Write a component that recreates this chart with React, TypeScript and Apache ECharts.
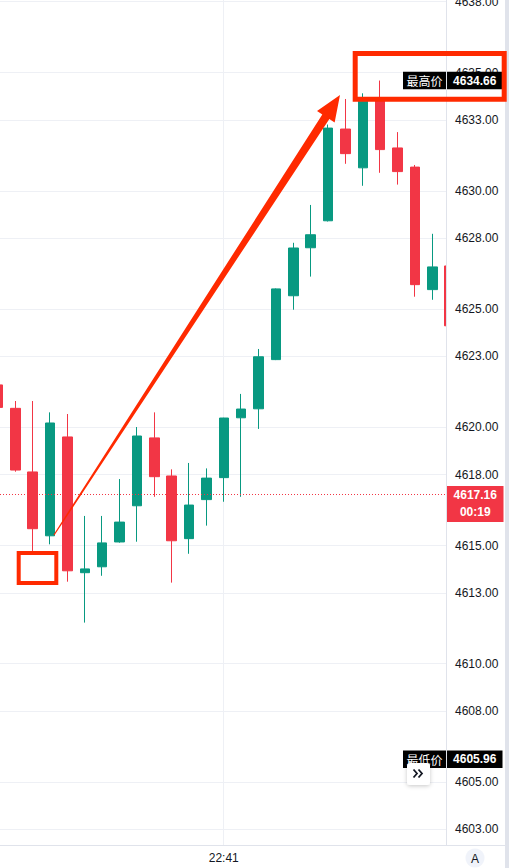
import React, { useEffect, useRef } from 'react';
import * as echarts from 'echarts';

const categories = [
  '22:28', '22:29', '22:30', '22:31', '22:32', '22:33', '22:34', '22:35', '22:36',
  '22:37', '22:38', '22:39', '22:40', '22:41', '22:42', '22:43', '22:44', '22:45',
  '22:46', '22:47', '22:48', '22:49', '22:50', '22:51', '22:52', '22:53', '22:54',
];
const opens = [
  4621.79, 4620.8, 4618.11, 4615.41, 4619.59, 4613.85, 4614.1, 4615.15, 4616.68,
  4619.55, 4617.94, 4615.29, 4616.94, 4617.87, 4620.4, 4620.78, 4622.86, 4625.56,
  4627.59, 4628.73, 4632.61, 4630.97, 4633.8, 4631.81, 4631.0, 4625.82, 4626.82,
];
const closes = [
  4620.84, 4618.19, 4615.71, 4620.18, 4613.93, 4614.01, 4615.11, 4615.99, 4619.63,
  4617.91, 4615.2, 4616.71, 4617.85, 4620.39, 4620.77, 4622.98, 4625.85, 4627.58,
  4628.14, 4632.65, 4631.57, 4633.79, 4631.74, 4630.81, 4626.03, 4626.78, 4624.29,
];
const lows = [
  4620.73, 4618.12, 4614.77, 4615.05, 4613.47, 4611.74, 4613.72, 4615.12, 4615.16,
  4617.06, 4613.43, 4614.65, 4615.84, 4616.85, 4617.06, 4619.93, 4622.84, 4624.97,
  4626.37, 4628.7, 4631.14, 4630.21, 4630.76, 4630.26, 4625.52, 4625.39, 4624.0,
];
const highs = [
  4622.0, 4621.11, 4621.11, 4620.63, 4620.56, 4616.25, 4616.25, 4617.81, 4620.01,
  4620.63, 4618.22, 4618.49, 4618.26, 4620.4, 4621.41, 4623.31, 4625.87, 4627.8,
  4629.4, 4632.8, 4633.88, 4634.12, 4634.66, 4632.48, 4631.09, 4628.18, 4627.0,
];
const priceTicks = [
  4603, 4605, 4608, 4610, 4613, 4615, 4618, 4620, 4623, 4625, 4628, 4630, 4633, 4635, 4638,
];
const timeLabel = '22:41';
const highestPrice = 4634.66;
const lowestPrice = 4605.96;
const lastPrice = 4617.16;
const countdown = '00:19';
const highText = '最高价';
const lowText = '最低价';

const UP = '#089981';
const DOWN = '#F23645';
const FONT = '"Liberation Sans", Arial, "Noto Sans CJK SC", sans-serif';
const CJK = '"Noto Sans CJK SC", "Liberation Sans", sans-serif';
const ANNOT = '#ff2a00';

export default function App() {
  const ref = useRef<HTMLDivElement>(null);

  useEffect(() => {
    if (!ref.current) return;
    const chart = echarts.init(ref.current, null, { renderer: 'svg' });
    const W = 509;
    const plotRight = 446;
    const plotBottom = 845;
    const slot = 17.375;
    const gridLeft = -2.1 - slot / 2;
    const gridWidth = slot * categories.length;
    const axisOffset = plotRight - (gridLeft + gridWidth);
    const yMin = 4602.336;
    const yMax = 4638.066;

    const data = categories.map((_, i) => [opens[i], closes[i], lows[i], highs[i]]);

    chart.setOption({
      animation: false,
      backgroundColor: '#ffffff',
      grid: {
        left: gridLeft,
        top: 0,
        width: gridWidth,
        bottom: 868 - plotBottom,
        containLabel: false,
        outerBoundsMode: 'none',
      },
      xAxis: {
        type: 'category',
        data: categories,
        boundaryGap: true,
        axisLine: { show: false },
        axisTick: { show: false },
        splitLine: { show: false },
        axisLabel: {
          interval: (i: number) => categories[i] === timeLabel,
          color: '#131722',
          fontSize: 12,
          fontFamily: FONT,
          margin: 7,
        },
      },
      yAxis: [
        {
          type: 'value',
          position: 'right',
          min: yMin,
          max: yMax,
          offset: axisOffset,
          axisLine: { show: false },
          axisTick: { show: false, customValues: priceTicks },
          axisLabel: { show: false, customValues: priceTicks },
          splitLine: { show: true, lineStyle: { color: '#eef0f5', width: 1 } },
        },
        {
          type: 'value',
          position: 'right',
          min: yMin,
          max: yMax,
          offset: axisOffset,
          z: 20,
          axisLine: { show: false },
          axisTick: { show: false, customValues: priceTicks },
          splitLine: { show: false },
          axisLabel: {
            customValues: priceTicks,
            formatter: (v: number) => v.toFixed(2),
            align: 'left',
            margin: 9,
            color: '#131722',
            fontSize: 12,
            fontFamily: FONT,
          },
        },
      ],
      series: [
        {
          type: 'candlestick',
          data,
          barWidth: 10,
          itemStyle: {
            color: UP,
            color0: DOWN,
            borderColor: UP,
            borderColor0: DOWN,
            borderColorDoji: UP,
            borderWidth: 1,
          },
        },
      ],
    });

    const yHigh = chart.convertToPixel({ yAxisIndex: 0 }, highestPrice) as number;
    const yLow = chart.convertToPixel({ yAxisIndex: 0 }, lowestPrice) as number;
    const yLast = chart.convertToPixel({ yAxisIndex: 0 }, lastPrice) as number;
    const xTime = chart.convertToPixel({ xAxisIndex: 0 }, timeLabel) as number;

    const boxH = 17.5;
    const lblX = 403;
    const lblW = 43;
    const pxX = 447;
    const pxW = 55.5;
    const cx = pxX + pxW / 2;

    // arrow geometry (annotation)
    const tail = [54, 535];
    const tip = [340, 95];
    const dx = tip[0] - tail[0];
    const dy = tip[1] - tail[1];
    const len = Math.sqrt(dx * dx + dy * dy);
    const ux = dx / len, uy = dy / len;
    const nx = -uy, ny = ux;
    const headLen = 26, headHalf = 10.5, shaftEnd = 4.2, shaftStart = 0.6;
    const bx = tip[0] - headLen * ux, by = tip[1] - headLen * uy;
    const arrowPts = [
      [tail[0] + shaftStart * nx, tail[1] + shaftStart * ny],
      [bx + shaftEnd * nx, by + shaftEnd * ny],
      [bx + headHalf * nx, by + headHalf * ny],
      [tip[0], tip[1]],
      [bx - headHalf * nx, by - headHalf * ny],
      [bx - shaftEnd * nx, by - shaftEnd * ny],
      [tail[0] - shaftStart * nx, tail[1] - shaftStart * ny],
    ];

    const txt = (text: string, x: number, y: number, opts: any = {}) => ({
      type: 'text',
      z: opts.z ?? 31,
      style: {
        text,
        x,
        y,
        align: 'center',
        verticalAlign: 'middle',
        fill: opts.fill ?? '#ffffff',
        fontSize: opts.fontSize ?? 12,
        fontWeight: opts.fontWeight ?? 'normal',
        fontFamily: opts.fontFamily ?? FONT,
      },
    });

    chart.setOption({
      graphic: [
        {
          type: 'line', z: 1, silent: true,
          shape: { x1: Math.round(xTime) - 0.5, y1: 0, x2: Math.round(xTime) - 0.5, y2: plotBottom },
          style: { stroke: '#eef0f5', lineWidth: 1 },
        },
        {
          type: 'line', z: 6, silent: true,
          shape: { x1: 0, y1: Math.round(yLast) + 0.5, x2: plotRight, y2: Math.round(yLast) + 0.5 },
          style: { stroke: DOWN, lineWidth: 1, lineDash: [1, 2] },
        },
        {
          type: 'rect', z: 10, silent: true,
          shape: { x: plotRight + 0.5, y: 0, width: W - plotRight, height: plotBottom },
          style: { fill: '#ffffff' },
        },
        {
          type: 'line', z: 11, silent: true,
          shape: { x1: plotRight + 0.5, y1: 0, x2: plotRight + 0.5, y2: plotBottom },
          style: { stroke: '#e0e3eb', lineWidth: 1 },
        },
        {
          type: 'line', z: 11, silent: true,
          shape: { x1: 0, y1: plotBottom + 0.5, x2: 505, y2: plotBottom + 0.5 },
          style: { stroke: '#e0e3eb', lineWidth: 1 },
        },
        {
          type: 'rect', z: 11, silent: true,
          shape: { x: 505, y: 0, width: 4, height: 868 },
          style: { fill: '#e0e3eb' },
        },
        {
          type: 'rect', z: 30,
          shape: { x: lblX, y: yHigh - boxH / 2, width: lblW, height: boxH },
          style: { fill: '#000000' },
        },
        txt(highText, lblX + lblW / 2, yHigh, { fontFamily: CJK }),
        {
          type: 'rect', z: 30,
          shape: { x: pxX, y: yHigh - boxH / 2, width: pxW, height: boxH },
          style: { fill: '#000000' },
        },
        txt(highestPrice.toFixed(2), cx, yHigh, { fontWeight: 'bold' }),
        {
          type: 'rect', z: 30,
          shape: { x: lblX, y: yLow - boxH / 2, width: lblW, height: boxH },
          style: { fill: '#000000' },
        },
        txt(lowText, lblX + lblW / 2, yLow, { fontFamily: CJK }),
        {
          type: 'rect', z: 30,
          shape: { x: pxX, y: yLow - boxH / 2, width: pxW, height: boxH },
          style: { fill: '#000000' },
        },
        txt(lowestPrice.toFixed(2), cx, yLow, { fontWeight: 'bold' }),
        {
          type: 'rect', z: 30,
          shape: { x: pxX, y: yLast - 8.5, width: 56.5, height: 36 },
          style: { fill: DOWN },
        },
        txt(lastPrice.toFixed(2), cx + 0.5, yLast + 1, { fontWeight: 'bold' }),
        txt(countdown, cx + 0.5, yLast + 17.5, { fontWeight: 'bold' }),
        {
          type: 'rect', z: 40,
          shape: { x: 407, y: 763, width: 23, height: 22, r: 3 },
          style: { fill: '#ffffff', shadowBlur: 4, shadowColor: 'rgba(0,0,0,0.22)', shadowOffsetY: 1 },
        },
        {
          type: 'polyline', z: 41,
          shape: { points: [[413.5, 769.5], [417, 773.5], [413.5, 777.5]] },
          style: { stroke: '#131722', lineWidth: 1.8, fill: 'none' },
        },
        {
          type: 'polyline', z: 41,
          shape: { points: [[418.5, 769.5], [422, 773.5], [418.5, 777.5]] },
          style: { stroke: '#131722', lineWidth: 1.8, fill: 'none' },
        },
        {
          type: 'circle', z: 30,
          shape: { cx: 475, cy: 858, r: 9.5 },
          style: { fill: '#f0f3fa' },
        },
        txt('A', 475, 858.5, { fill: '#131722', fontSize: 12 }),
        {
          type: 'rect', z: 50,
          shape: { x: 18.7, y: 553, width: 37.6, height: 30 },
          style: { fill: 'none', stroke: ANNOT, lineWidth: 4 },
        },
        {
          type: 'rect', z: 50,
          shape: { x: 355.2, y: 53.5, width: 149, height: 45.7 },
          style: { fill: 'none', stroke: ANNOT, lineWidth: 5 },
        },
        {
          type: 'polygon', z: 50,
          shape: { points: arrowPts },
          style: { fill: ANNOT },
        },
      ],
    });

    return () => chart.dispose();
  }, []);

  return (
    <div
      ref={ref}
      style={{ position: 'absolute', left: 0, top: 0, width: 509, height: 868 }}
    />
  );
}
